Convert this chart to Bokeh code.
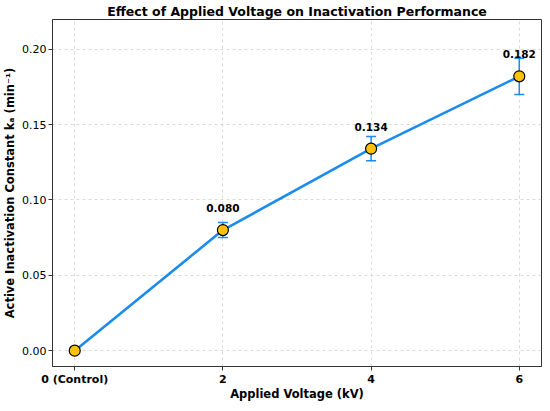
from bokeh.plotting import figure
from bokeh.models import ColumnDataSource, Whisker, TeeHead, FixedTicker, Range1d
from bokeh.embed import file_html
from bokeh.resources import INLINE

voltage = [0, 2, 4, 6]
tick_labels = ["0 (Control)", "2", "4", "6"]
k_values = [0.000, 0.080, 0.134, 0.182]
k_errors = [0.000, 0.005, 0.008, 0.012]
value_labels = ["", "0.080", "0.134", "0.182"]

lower = [k - e for k, e in zip(k_values, k_errors)]
upper = [k + e for k, e in zip(k_values, k_errors)]
src = ColumnDataSource(dict(x=voltage, y=k_values, lower=lower, upper=upper, lab=value_labels))

BLUE = "#1a8cf0"
FONT = "DejaVu Sans"

p = figure(width=542, height=403, output_backend="svg", toolbar_location=None,
           x_range=Range1d(-0.3, 6.3), y_range=Range1d(-0.0105, 0.2197),
           min_border_left=0, min_border_right=1, min_border_top=0, min_border_bottom=0)

p.title.text = "Effect of Applied Voltage on Inactivation Performance"
p.title.align = "center"
p.title.text_font = FONT
p.title.text_font_size = "12.5px"
p.title.text_font_style = "bold"
p.title.text_color = "black"
p.title.offset = 0
p.title.standoff = 2

p.line("x", "y", source=src, line_color=BLUE, line_width=2.6)
w = Whisker(source=src, base="x", lower="lower", upper="upper", line_color=BLUE, line_width=1.5,
            upper_head=TeeHead(size=10, line_color=BLUE, line_width=1.5),
            lower_head=TeeHead(size=10, line_color=BLUE, line_width=1.5))
p.add_layout(w)
p.scatter("x", "y", source=src, size=11, fill_color="#FFC107", line_color="black", line_width=1.2)
p.text("x", "y", text="lab", source=src, text_align="center", text_baseline="middle",
       y_offset=-22, text_font_size="10.5px", text_font_style="bold", text_color="black",
       text_font={"value": FONT})

p.xaxis.ticker = FixedTicker(ticks=voltage)
p.xaxis.major_label_overrides = {v: t for v, t in zip(voltage, tick_labels)}
p.xaxis.major_label_text_font_style = "bold"
p.yaxis.ticker = FixedTicker(ticks=[0.0, 0.05, 0.10, 0.15, 0.20])
p.yaxis.major_label_overrides = {0.0: "0.00", 0.05: "0.05", 0.10: "0.10", 0.15: "0.15", 0.20: "0.20"}

for ax in (p.xaxis, p.yaxis):
    ax.major_label_text_font = FONT
    ax.major_label_text_font_size = "11px"
    ax.major_label_text_color = "black"
    ax.axis_label_text_font = FONT
    ax.axis_label_text_font_style = "bold"
    ax.axis_label_text_color = "black"
    ax.axis_label_text_font_size = "11.5px"
    ax.minor_tick_line_color = None
    ax.major_tick_out = 4
    ax.major_tick_in = 0
    ax.axis_line_color = "#333333"
    ax.major_tick_line_color = "#333333"
    ax.axis_label_standoff = 2
    ax.major_label_standoff = 2

p.xaxis.axis_label_standoff = -2
p.xaxis.axis_label = "Applied Voltage (kV)"
p.yaxis.axis_label = "Active Inactivation Constant kₐ (min⁻¹)"

p.outline_line_color = "#333333"
p.outline_line_width = 1
p.grid.grid_line_color = "#d0d0d0"
p.grid.grid_line_dash = "3 3"
p.grid.grid_line_width = 0.8

open("out.html", "w").write(file_html(p, INLINE))
